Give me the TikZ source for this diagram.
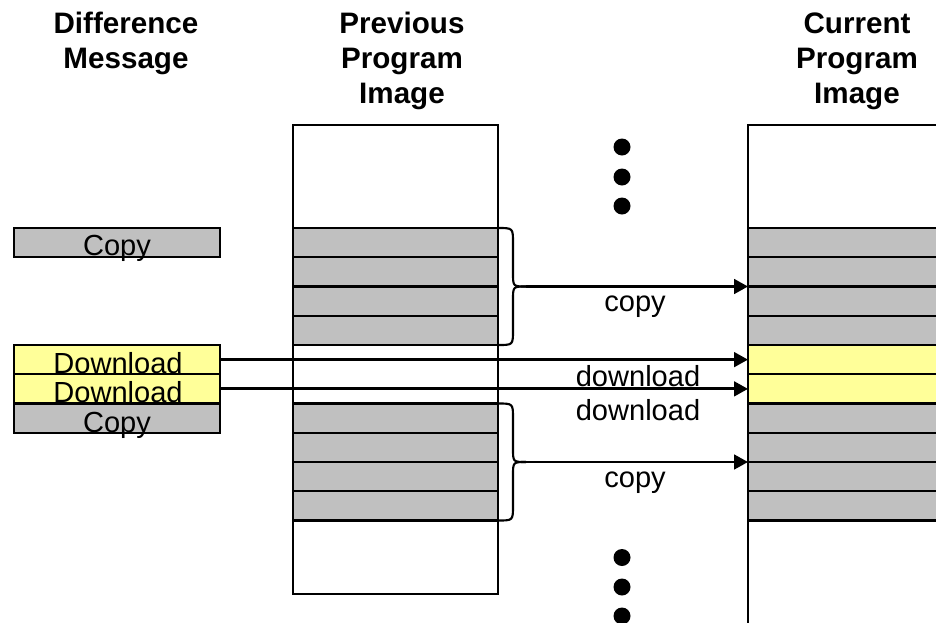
\documentclass[tikz,border=0pt]{standalone}
\usepackage{fontspec}
\setmainfont{Liberation Sans}
\usetikzlibrary{arrows.meta}
\definecolor{blockgray}{HTML}{C0C0C0}
\definecolor{blockyellow}{HTML}{FFFF99}
\begin{document}
\begin{tikzpicture}[x=0.75pt,y=-0.75pt,
  every node/.style={inner sep=0pt, outer sep=0pt},
  txt/.style={font=\fontsize{21.8}{26.25}\selectfont, anchor=base},
  title/.style={font=\fontsize{22.2}{26.25}\selectfont\bfseries, align=center, anchor=base},
  graybox/.style={draw=black, line width=1.6pt, fill=blockgray},
  yellowbox/.style={draw=black, line width=1.6pt, fill=blockyellow},
  msgbox/.style={minimum width=154.5pt, minimum height=21.94pt, anchor=north west},
  frame/.style={draw=black, line width=1.3pt},
  conn/.style={line width=2.1pt, -{Triangle[length=10.5pt,width=11pt]}},
  brace/.style={line width=1.6pt},
  dot/.style={circle, fill=black, minimum size=12.75pt}
]
\useasboundingbox (0,0) rectangle (936,622);
\clip (0,0) rectangle (936,622);

% titles (anchor = baseline of last line)
\node[title] (t1) at (126,68) {Difference\\Message};
\node[title] (t2) at (402,103) {Previous\\Program\\Image};
\node[title] (t3) at (857,103) {Current\\Program\\Image};

% previous program image
\draw[frame] (293,125) rectangle (498,594);
\foreach \y in {228,257.25,286.5,315.75,403.5,432.75,462,491.25}
  \draw[graybox] (293,\y) rectangle ++(205,29.25);

% current program image
\draw[frame] (748,640) -- (748,125) -- (950,125);
\foreach \y in {228,257.25,286.5,315.75,403.5,432.75,462,491.25}
  \draw[graybox] (748,\y) rectangle ++(210,29.25);
\foreach \y in {345,374.25}
  \draw[yellowbox] (748,\y) rectangle ++(210,29.25);
\coordinate (curL) at (748,0);

% difference message
\node[graybox, msgbox] (c1) at (14,228) {};
\node[yellowbox, msgbox] (d1) at (14,345) {};
\node[yellowbox, msgbox] (d2) at (14,374.25) {};
\node[graybox, msgbox] (c2) at (14,403.5) {};
\node[txt] (c1t) at (117,255) {Copy};
\node[txt] (d1t) at (118,373) {Download};
\node[txt] (d2t) at (118,402) {Download};
\node[txt] (c2t) at (117,432) {Copy};

% braces
\coordinate (b1) at (526,286.5);
\coordinate (b2) at (526,462);
\draw[brace] (498,228) .. controls (513,228) .. (513,243) -- (513,273) .. controls (513,286.5) .. (b1);
\draw[brace] (b1) .. controls (513,286.5) .. (513,300) -- (513,330) .. controls (513,345) .. (498,345);
\draw[brace] (498,403.5) .. controls (513,403.5) .. (513,418.5) -- (513,448.5) .. controls (513,462) .. (b2);
\draw[brace] (b2) .. controls (513,462) .. (513,475.5) -- (513,505.5) .. controls (513,520.5) .. (498,520.5);

% connectors
\draw[conn] (b1) -- (b1 -| curL);
\draw[conn] (d1.east) -- (d1.east -| curL);
\draw[conn] (d2.east) -- (d2.east -| curL);
\draw[conn] (b2) -- (b2 -| curL);

% labels
\node[txt] (l1) at (635,311) {copy};
\node[txt] (l2) at (638,386) {download};
\node[txt] (l3) at (638,420) {download};
\node[txt] (l4) at (635,487) {copy};

% dots
\node[dot] (u1) at (622,147) {};
\node[dot] (u2) at (622,177) {};
\node[dot] (u3) at (622,206) {};
\node[dot] (w1) at (622,557.5) {};
\node[dot] (w2) at (622,587) {};
\node[dot] (w3) at (622,616) {};
\end{tikzpicture}
\end{document}
